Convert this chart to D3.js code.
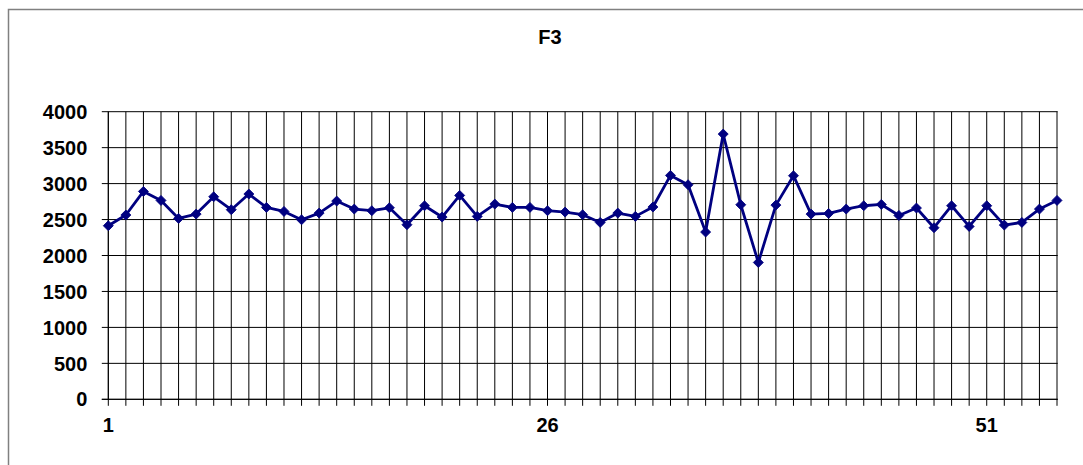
<!DOCTYPE html>
<html>
<head>
<meta charset="utf-8">
<script src="https://cdn.jsdelivr.net/npm/d3@7"></script>
<style>
  body { margin: 0; background: #fff; }
  svg text { font-family: "Liberation Sans", Arial, sans-serif; font-weight: bold; fill: #000; }
</style>
</head>
<body>
<div id="chart"></div>
<script>
// chart values
const categories = [1, 2, 3, 4, 5, 6, 7, 8, 9, 10, 11, 12, 13, 14, 15, 16, 17, 18, 19, 20,
  21, 22, 23, 24, 25, 26, 27, 28, 29, 30, 31, 32, 33, 34, 35, 36, 37, 38, 39, 40,
  41, 42, 43, 44, 45, 46, 47, 48, 49, 50, 51, 52, 53, 54, 55];
const f3Values = [2414, 2563, 2891, 2766, 2516, 2576, 2817, 2637, 2855, 2669,
  2613, 2497, 2590, 2757, 2646, 2623, 2664, 2428, 2692, 2535,
  2836, 2544, 2715, 2669, 2669, 2623, 2604, 2567, 2460, 2590,
  2544, 2674, 3114, 2984, 2326, 3689, 2706, 1903, 2701, 3110,
  2576, 2585, 2646, 2692, 2710, 2557, 2660, 2386, 2692, 2404,
  2692, 2423, 2460, 2646, 2766];
const xTickLabels = [1, 26, 51];
const yTicks = [0, 500, 1000, 1500, 2000, 2500, 3000, 3500, 4000];
const chartTitle = 'F3';

class LineChart {

  constructor(_config, _categories, _values) {
    this.config = {
      parentElement: _config.parentElement,
      containerWidth: _config.containerWidth || 1083,
      containerHeight: _config.containerHeight || 465,
      margin: _config.margin || {top: 111.7, right: 26, bottom: 65.7, left: 108.3},
      tickSize: 6.5
    }
    this.categories = _categories;
    this.values = _values;
    this.initVis();
  }

  initVis() {
    let vis = this;

    vis.width = vis.config.containerWidth - vis.config.margin.left - vis.config.margin.right;
    vis.height = vis.config.containerHeight - vis.config.margin.top - vis.config.margin.bottom;

    vis.svg = d3.select(vis.config.parentElement).append('svg')
        .attr('width', vis.config.containerWidth)
        .attr('height', vis.config.containerHeight);

    // outer chart frame (runs off the right and bottom edge)
    vis.svg.append('rect')
        .attr('x', 8.5)
        .attr('y', 9.5)
        .attr('width', 1100)
        .attr('height', 500)
        .attr('fill', 'none')
        .attr('stroke', '#808080')
        .attr('stroke-width', 1.5);

    vis.chart = vis.svg.append('g')
        .attr('transform', `translate(${vis.config.margin.left},${vis.config.margin.top})`);

    vis.xScale = d3.scalePoint()
        .domain(vis.categories)
        .range([0, vis.width]);

    vis.yScale = d3.scaleLinear()
        .domain([0, 4000])
        .range([vis.height, 0]);

    vis.svg.append('text')
        .attr('x', 550)
        .attr('y', 44.3)
        .attr('text-anchor', 'middle')
        .style('font-size', '20px')
        .text(chartTitle);

    vis.updateVis();
  }

  updateVis() {
    let vis = this;
    vis.points = vis.categories.map((c, i) => ({cat: c, value: vis.values[i]}));
    vis.renderVis();
  }

  renderVis() {
    let vis = this;
    const ts = vis.config.tickSize;

    // horizontal gridlines + y ticks
    vis.chart.selectAll('.h-grid')
        .data(yTicks)
      .join('line')
        .attr('class', 'h-grid')
        .attr('x1', -ts)
        .attr('x2', vis.width + 0.7)
        .attr('y1', d => vis.yScale(d))
        .attr('y2', d => vis.yScale(d))
        .attr('stroke', '#000')
        .attr('stroke-width', 1);

    // vertical gridlines + x ticks
    vis.chart.selectAll('.v-grid')
        .data(vis.categories)
      .join('line')
        .attr('class', 'v-grid')
        .attr('x1', d => vis.xScale(d))
        .attr('x2', d => vis.xScale(d))
        .attr('y1', 0)
        .attr('y2', vis.height + ts)
        .attr('stroke', '#000')
        .attr('stroke-width', 1);

    // axis lines
    vis.chart.append('line')
        .attr('x1', 0).attr('x2', 0)
        .attr('y1', 0).attr('y2', vis.height)
        .attr('stroke', '#000');
    vis.chart.append('line')
        .attr('x1', -ts).attr('x2', vis.width + 0.7)
        .attr('y1', vis.height).attr('y2', vis.height)
        .attr('stroke', '#000');

    // y labels
    vis.chart.selectAll('.y-label')
        .data(yTicks)
      .join('text')
        .attr('class', 'y-label')
        .attr('x', -21)
        .attr('y', d => vis.yScale(d))
        .attr('dy', '0.36em')
        .attr('text-anchor', 'end')
        .style('font-size', '20px')
        .text(d => d);

    // x labels
    vis.chart.selectAll('.x-label')
        .data(xTickLabels)
      .join('text')
        .attr('class', 'x-label')
        .attr('x', d => vis.xScale(d))
        .attr('y', vis.height + 32.4)
        .attr('text-anchor', 'middle')
        .style('font-size', '20px')
        .text(d => d);

    const line = d3.line()
        .x(d => vis.xScale(d.cat))
        .y(d => vis.yScale(d.value));

    vis.chart.append('path')
        .datum(vis.points)
        .attr('fill', 'none')
        .attr('stroke', '#000080')
        .attr('stroke-width', 2.8)
        .attr('stroke-linejoin', 'round')
        .attr('d', line);

    const diamond = d3.symbol().type(d3.symbolSquare).size(50);
    vis.chart.selectAll('.marker')
        .data(vis.points)
      .join('path')
        .attr('class', 'marker')
        .attr('d', diamond)
        .attr('transform', d => `translate(${vis.xScale(d.cat)},${vis.yScale(d.value)}) rotate(45)`)
        .attr('fill', '#000080')
        .attr('stroke', '#000080')
        .attr('stroke-width', 0.8);
  }
}

new LineChart({parentElement: '#chart'}, categories, f3Values);
</script>
</body>
</html>
